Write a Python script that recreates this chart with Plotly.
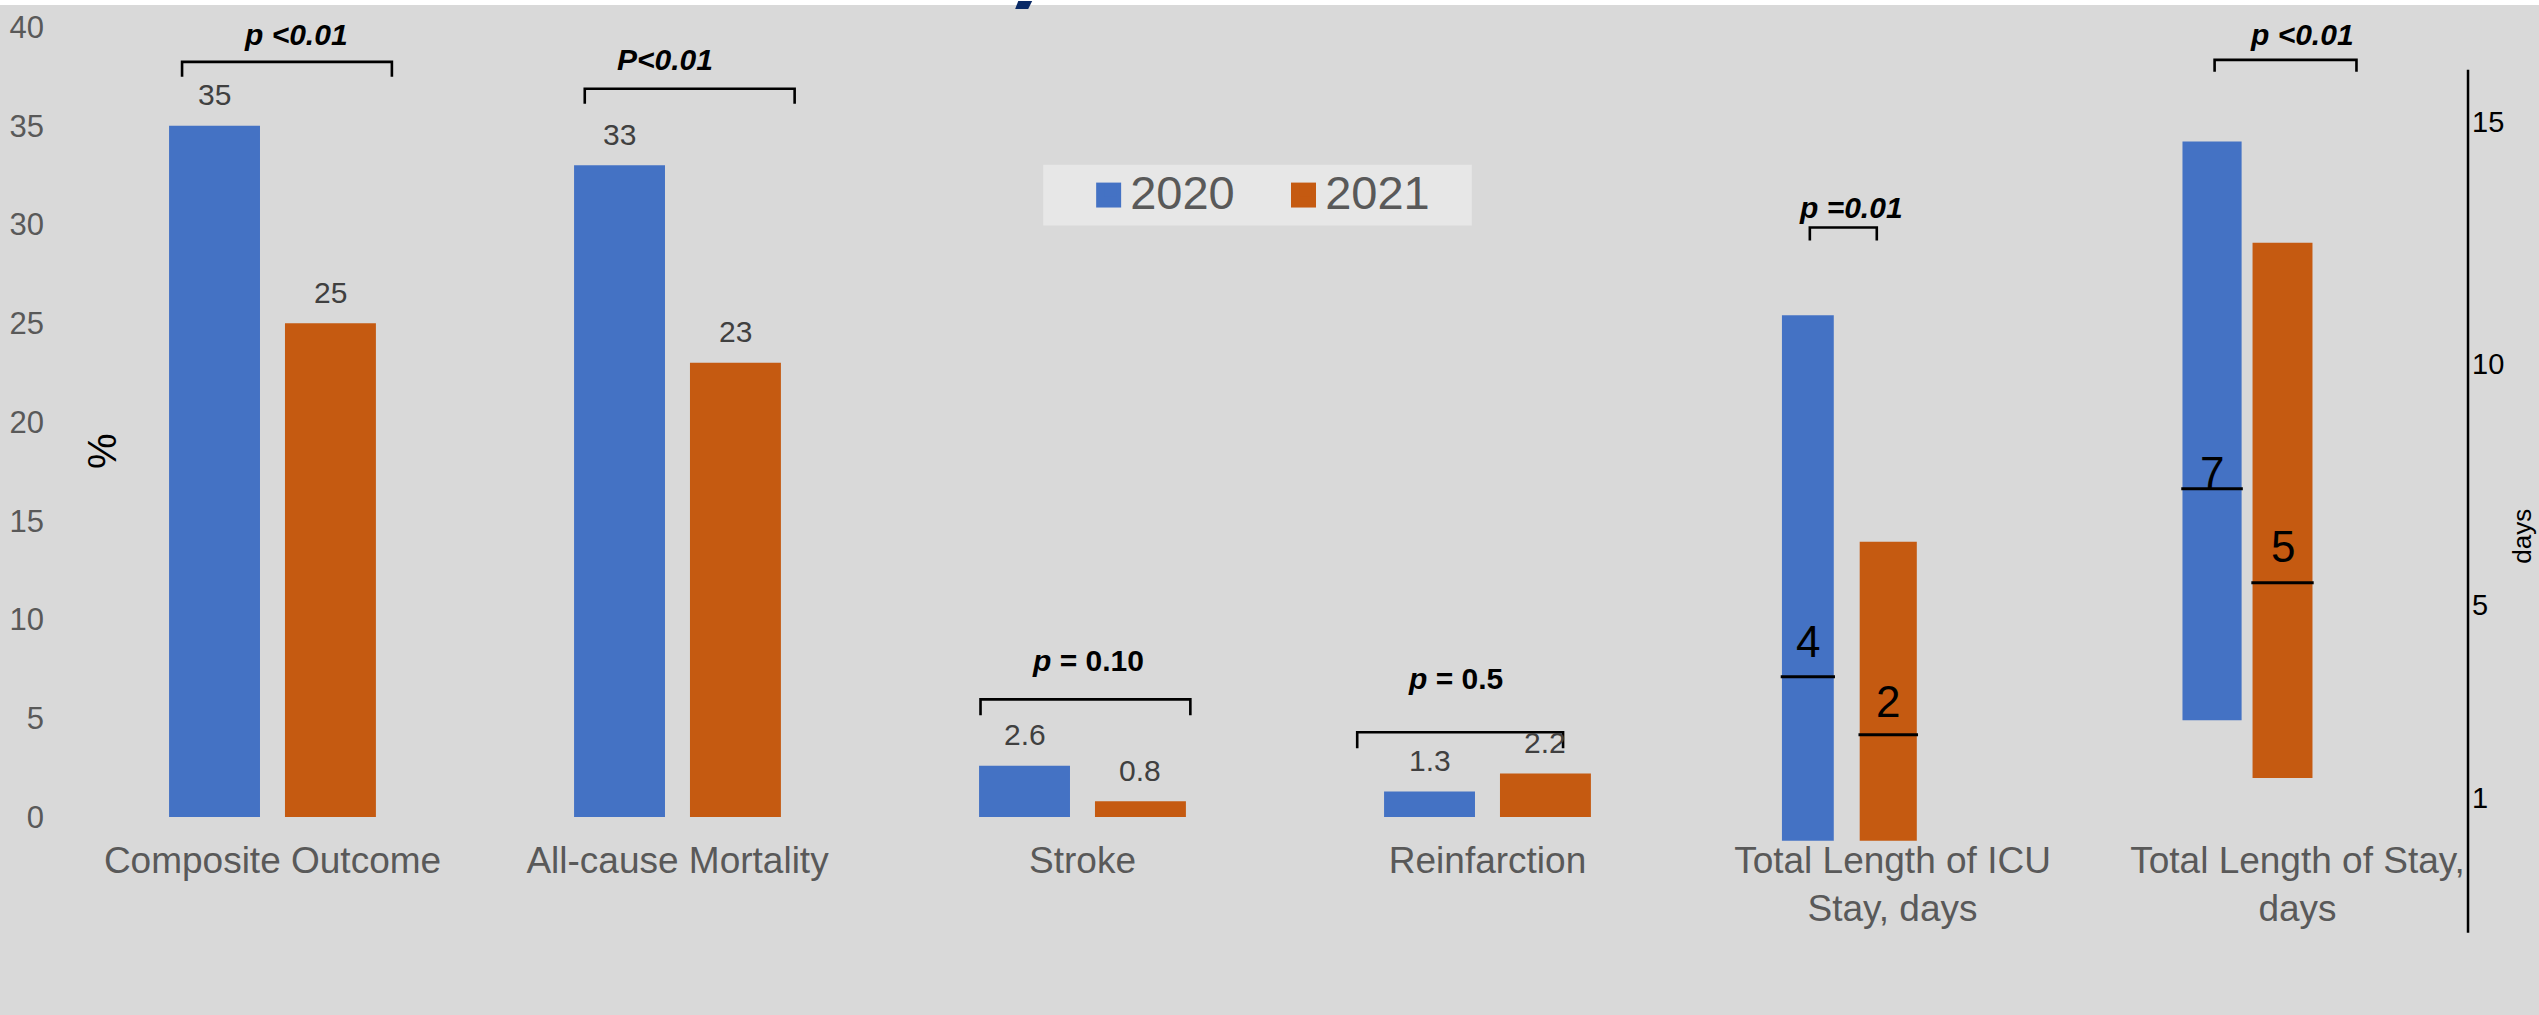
import plotly.graph_objects as go

# ---------------- data ----------------
categories = ["Composite Outcome", "All-cause Mortality", "Stroke", "Reinfarction",
              "Total Length of ICU Stay, days", "Total Length of Stay, days"]
tick_labels = ["Composite Outcome", "All-cause Mortality", "Stroke", "Reinfarction",
               "Total Length of ICU<br>Stay, days", "Total Length of Stay,<br>days"]
years = ["2020", "2021"]

# percentage outcomes (left axis, %)
pct_categories = categories[:4]
pct_2020 = [35, 33, 2.6, 1.3]
pct_2021 = [25, 23, 0.8, 2.2]

# length of stay (right axis, days): interquartile range and median (as drawn)
days_categories = categories[4:]
iqr_low_2020 = [0.1, 2.6]
iqr_high_2020 = [11.0, 14.6]
iqr_low_2021 = [0.1, 1.4]
iqr_high_2021 = [6.3, 12.5]
median_2020 = [3.5, 7.4]
median_2021 = [2.3, 5.45]

p_values = ["p <0.01", "P<0.01", "p = 0.10", "p = 0.5", "p =0.01", "p <0.01"]

left_ticks = [0, 5, 10, 15, 20, 25, 30, 35, 40]
right_ticks = [1, 5, 10, 15]

# ---------------- style / layout ----------------
BLUE = "#4472C4"
ORANGE = "#C55A11"
BG = "#D9D9D9"
GREY_TXT = "#595959"
FONT = "Liberation Sans, Arial, sans-serif"

W, H = 2539, 1015
ML, MR, MT, MB = 68, 39, 10, 169

idx = {c: i for i, c in enumerate(categories)}

# bar geometry (category units)
pct_width = 0.2245
pct_offset = {"2020": -0.2554, "2021": 0.0308}
days_width = {"2020": [0.128, 0.146], "2021": [0.141, 0.148]}
days_offset = {"2020": [-0.273, -0.284], "2021": [-0.081, -0.111]}
median_label_shift = {"2020": [35, 16], "2021": [33, 36]}

# p-value brackets: (x0, x1, y_line, y_tick_bottom, text_x, text_y, style)
brackets = [
    (-0.2233, 0.2948, 38.232, 37.475, 0.058, 39.596, "all"),
    (0.7710, 1.2892, 36.869, 36.111, 0.968, 38.333, "all"),
    (1.7482, 2.2663, 5.960, 5.152, 2.0145, 7.929, "p"),
    (2.6783, 3.1866, 4.293, 3.485, 2.9201, 7.020, "p"),
    (3.7959, 3.9612, 29.848, 29.192, 3.8971, 30.859, "all"),
    (4.7953, 5.1456, 38.333, 37.727, 5.0123, 39.596, "all"),
]

fig = go.Figure()

series = {"2020": (pct_2020, iqr_low_2020, iqr_high_2020, median_2020, BLUE),
          "2021": (pct_2021, iqr_low_2021, iqr_high_2021, median_2021, ORANGE)}

for yr in years:
    pct, lo, hi, med, col = series[yr]
    fig.add_trace(go.Bar(
        x=[idx[c] for c in pct_categories], y=pct, name=yr,
        marker=dict(color=col, line=dict(width=0)),
        width=pct_width, offset=pct_offset[yr], yaxis="y",
        legendgroup=yr,
    ))
for yr in years:
    pct, lo, hi, med, col = series[yr]
    fig.add_trace(go.Bar(
        x=[idx[c] for c in days_categories], y=[h - l for h, l in zip(hi, lo)], base=lo,
        name=yr, marker=dict(color=col, line=dict(width=0)),
        width=days_width[yr], offset=days_offset[yr], yaxis="y2",
        legendgroup=yr, showlegend=False,
    ))

shapes = []
annotations = []

PW = W - ML - MR
PH = H - MT - MB


def px_x(px):
    return (px - ML) / PW


def px_y(py):
    return (H - MB - py) / PH


# value labels above percentage bars
for yr in years:
    pct, lo, hi, med, col = series[yr]
    for c, v in zip(pct_categories, pct):
        xc = idx[c] + pct_offset[yr] + pct_width / 2
        annotations.append(dict(x=xc, y=v, xref="x", yref="y", text=f"{v:g}",
                                showarrow=False, yshift=31, yanchor="middle",
                                font=dict(size=30, color="#404040", family=FONT)))

# median lines + labels for length-of-stay bars
for yr in years:
    pct, lo, hi, med, col = series[yr]
    for k, (c, m) in enumerate(zip(days_categories, med)):
        x0 = idx[c] + days_offset[yr][k]
        x1 = x0 + days_width[yr][k]
        shapes.append(dict(type="line", xref="x", yref="y2", x0=x0 - 0.003, x1=x1 + 0.003,
                           y0=m, y1=m, line=dict(color="black", width=3)))
        annotations.append(dict(x=(x0 + x1) / 2, y=m, xref="x", yref="y2", text=f"{m:.0f}",
                                showarrow=False, yshift=median_label_shift[yr][k],
                                yanchor="middle",
                                font=dict(size=44, color="black", family=FONT)))

# p-value brackets and texts
for (x0, x1, yl, yb, tx, ty, style), p in zip(brackets, p_values):
    shapes.append(dict(type="path", xref="x", yref="y",
                       path=f"M{x0},{yb} L{x0},{yl} L{x1},{yl} L{x1},{yb}",
                       line=dict(color="black", width=2.6)))
    if style == "all":
        txt = f"<b><i>{p}</i></b>"
    else:
        txt = f"<b><i>{p[0]}</i>{p[1:]}</b>"
    annotations.append(dict(x=tx, y=ty, xref="x", yref="y", text=txt, showarrow=False,
                            yanchor="middle", font=dict(size=30, color="black", family=FONT)))

# right axis line (drawn manually to match its extent)
right_pos = px_x(2468)
shapes.append(dict(type="line", xref="paper", yref="paper", x0=right_pos, x1=right_pos,
                   y0=px_y(68), y1=px_y(933), line=dict(color="black", width=2.5)))
# white strip at the very top
shapes.append(dict(type="rect", xref="paper", yref="paper", x0=px_x(-5), x1=px_x(W + 5),
                   y0=px_y(3), y1=px_y(-5), fillcolor="white", line=dict(width=0), layer="above"))
# fragment of a cut-off heading glyph at the top edge
shapes.append(dict(type="path", xref="paper", yref="paper",
                   path=(f"M{px_x(1017)},{px_y(-1)} L{px_x(1031)},{px_y(-1)} "
                         f"L{px_x(1027)},{px_y(7)} L{px_x(1014)},{px_y(7)} Z"),
                   fillcolor="#0A2A66", line=dict(width=0), layer="above"))
# legend background box and larger legend swatches
shapes.append(dict(type="rect", xref="paper", yref="paper", x0=px_x(1042), x1=px_x(1471),
                   y0=px_y(224), y1=px_y(163), fillcolor="#E7E7E7", line=dict(width=0),
                   layer="below"))
for col, sx in ((BLUE, 1095), (ORANGE, 1290)):
    shapes.append(dict(type="rect", xref="paper", yref="paper", x0=px_x(sx), x1=px_x(sx + 25),
                       y0=px_y(206), y1=px_y(181), fillcolor=col, line=dict(width=0),
                       layer="above"))

# axis titles
annotations.append(dict(x=px_x(100), y=px_y(450), xref="paper", yref="paper", text="%",
                        textangle=-90, showarrow=False, xanchor="center", yanchor="middle",
                        font=dict(size=40, color="black", family=FONT)))
annotations.append(dict(x=px_x(2522), y=px_y(535), xref="paper", yref="paper", text="days",
                        textangle=-90, showarrow=False, xanchor="center", yanchor="middle",
                        font=dict(size=26, color="black", family=FONT)))

left_bottom = (817 - (H - MB)) / 19.8
left_top = (817 - MT) / 19.8
r_slope, r_icpt = 48.34, 845.6
right_bottom = (r_icpt - (H - MB)) / r_slope
right_top = (r_icpt - MT) / r_slope

fig.update_layout(
    width=W, height=H,
    margin=dict(l=ML, r=MR, t=MT, b=MB, pad=0),
    paper_bgcolor=BG, plot_bgcolor=BG,
    font=dict(family=FONT, color=GREY_TXT),
    barmode="overlay",
    showlegend=True,
    legend=dict(orientation="h", x=px_x(1059), xanchor="left", y=px_y(152), yanchor="top",
                bgcolor="rgba(0,0,0,0)", borderwidth=0,
                font=dict(size=47, color=GREY_TXT, family=FONT),
                indentation=30, entrywidth=120, itemwidth=30),
    xaxis=dict(range=[-0.5, len(categories) - 0.5], tickvals=list(range(len(categories))),
               ticktext=tick_labels, showgrid=False, zeroline=False, showline=False,
               ticks="", tickfont=dict(size=37, color=GREY_TXT, family=FONT),
               ticklabelstandoff=-11),
    yaxis=dict(range=[left_bottom, left_top], tickvals=left_ticks, showgrid=False,
               zeroline=False, showline=False, ticks="",
               tickfont=dict(size=31, color=GREY_TXT, family=FONT), ticklabelstandoff=25),
    yaxis2=dict(range=[right_bottom, right_top], tickvals=right_ticks, overlaying="y",
                anchor="free", position=right_pos, side="right", showgrid=False,
                zeroline=False, showline=False, ticks="",
                tickfont=dict(size=29, color="black", family=FONT), ticklabelstandoff=3),
    shapes=shapes,
    annotations=annotations,
)

fig.write_html("out.html")
